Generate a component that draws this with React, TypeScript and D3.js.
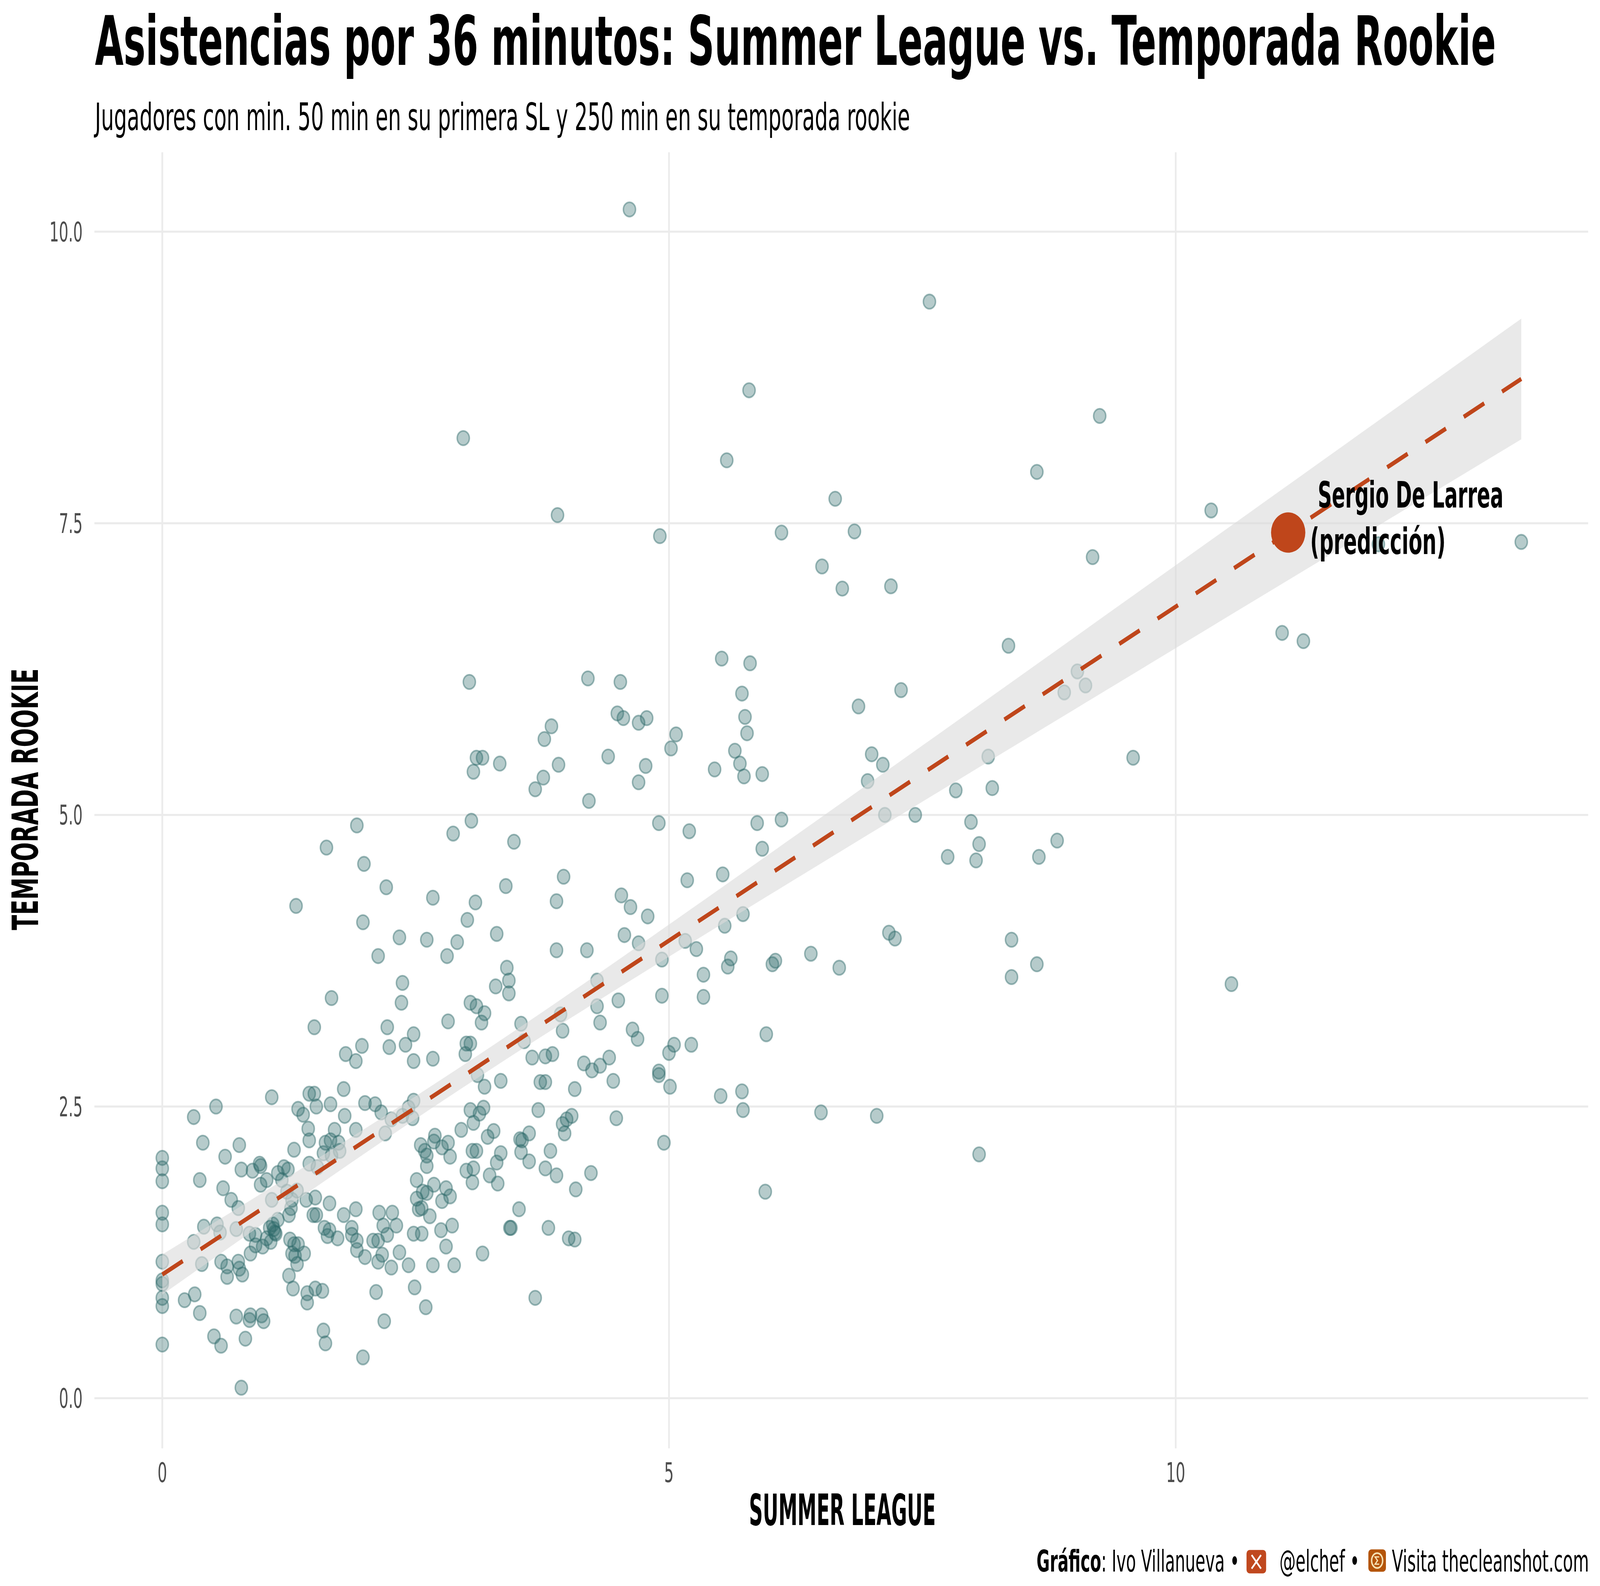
import { useLayoutEffect, useRef, useState, type ReactNode } from 'react';
import * as d3 from 'd3';

// Asistencias por 36 min: Summer League (x) vs temporada rookie (y), un valor por jugador
const slAst = [
  // columna x = 0
  0, 0, 0, 0, 0, 0, 0, 0, 0, 0, 0,
  // nube densa 0-2.5
  1.08, 0.53, 0.31, 0.40, 0.76, 0.62, 0.37, 1.45, 1.50, 1.52,
  1.66, 1.79, 1.34, 1.39, 1.80, 2.00, 2.10, 2.16, 2.26, 2.43,
  2.48, 2.47, 1.44, 1.45, 1.70, 1.91, 2.20, 2.37, 1.66, 1.61,
  1.74, 1.75, 1.67, 1.59, 1.30, 0.78, 0.89, 0.96, 0.97, 1.03,
  0.97, 1.14, 1.20, 1.24, 1.18, 0.60, 0.68, 0.75, 1.08, 1.23,
  1.33, 1.28, 1.27, 1.42, 1.51, 1.45, 1.53, 1.25, 1.49, 1.52,
  1.65, 1.79, 1.91, 1.60, 1.65, 1.63, 1.73, 1.87, 1.87, 1.92,
  1.92, 2.00, 2.08, 2.13, 2.14, 2.27, 2.18, 2.31, 2.22, 2.17,
  2.13, 2.26, 2.34, 2.43, 2.48, 2.49, 2.11, 2.19, 1.98, 1.59,
  1.61, 1.29, 1.43, 1.43, 1.51, 1.58, 1.25, 1.31, 1.28, 1.33,
  1.40, 1.26, 1.30, 1.34, 1.09, 1.10, 1.12, 1.06, 1.14, 1.11,
  1.03, 1.07, 0.92, 0.99, 0.87, 0.86, 0.92, 0.75, 0.76, 0.79,
  0.64, 0.64, 0.58, 0.73, 0.57, 0.54, 0.41, 0.31, 0.39, 0.32,
  0.22, 0.37, 0.51, 0.58, 0.73, 0.82, 0.86, 0.87, 0.98, 1.00, 0.78,
  // 0-2.5, asistencias rookie 3-5
  1.81, 1.91, 1.97, 2.24, 2.40, 2.48, 2.48, 2.22, 1.50, 1.67,
  2.36, 2.37, 2.13, 2.34, 1.98, 1.32, 2.21, 1.99, 1.62, 1.92,
  // 2.5-5, rookie 0-3
  2.67, 2.99, 3.65, 3.78, 3.85, 4.16, 4.24, 4.32, 4.41, 4.90,
  4.90, 5.01, 4.45, 4.07, 3.34, 3.18, 3.11, 3.73, 3.78, 3.71,
  4.48, 4.04, 3.99, 3.95, 3.97, 3.04, 3.17, 3.13, 3.07, 2.95,
  2.69, 2.68, 2.82, 2.76, 2.55, 2.59, 2.61, 2.61, 2.84, 3.21,
  3.27, 3.06, 3.10, 3.34, 3.30, 3.00, 3.07, 3.06, 3.23, 3.31,
  3.53, 3.55, 3.62, 3.54, 3.62, 3.83, 3.78, 3.89, 4.23, 4.08,
  4.95, 2.51, 2.68, 2.80, 2.57, 2.61, 2.76, 2.84, 2.51, 2.53,
  2.56, 2.64, 3.52, 3.43, 3.44, 3.81, 4.01, 4.07, 2.86, 2.75,
  2.56, 2.80, 3.16, 2.67, 2.88, 2.60, 3.68,
  // 2.5-5, rookie 3-5.6
  3.10, 3.16, 3.07, 3.33, 3.91, 3.76, 3.68, 4.40, 4.77, 4.70,
  5.02, 4.21, 4.90, 3.05, 2.87, 3.47, 3.96, 3.39, 2.67, 3.09,
  3.89, 4.53, 4.62, 4.79, 3.01, 3.30, 2.61, 2.91, 2.81, 4.56,
  4.70, 3.89, 4.19, 4.93, 3.40, 3.42, 3.42, 3.29, 4.29, 4.29,
  4.50, 4.32, 4.93, 3.04, 3.10, 3.18, 3.15, 2.82, 3.54, 3.93,
  3.95, 3.57, 4.64, 4.69, 5.05, 5.00, 3.04, 3.00,
  // 5-8.2
  6.71, 7.19, 5.52, 5.80, 5.72, 5.75, 5.77, 5.65, 5.70, 5.74,
  5.45, 5.92, 5.07, 6.87, 7.29, 7.00, 7.11, 6.96, 5.20, 5.87,
  6.11, 5.92, 5.18, 5.53, 7.13, 7.43, 7.83, 8.15, 8.19, 7.98,
  8.06, 8.03, 7.75, 5.16, 5.27, 5.34, 5.34, 5.55, 5.73, 5.61,
  5.58, 6.05, 6.02, 6.40, 6.68, 7.17, 7.23, 5.22, 5.96, 5.51,
  5.72, 5.73, 6.50, 7.05, 5.95, 8.06,
  // más de 8
  9.25, 8.63, 10.35, 9.18, 13.41, 12.0, 8.35, 9.03, 9.11, 8.90,
  11.05, 11.26, 9.58, 8.65, 8.83, 8.38, 8.63, 8.38, 10.55,
  // parte alta
  4.61, 7.57, 5.79, 2.97, 5.57, 3.90, 6.64, 4.91, 6.11, 6.83,
  6.51, 3.03, 4.20, 4.52, 4.49, 4.55, 4.70, 4.78, 3.84, 3.77,
];

const rookieAst = [
  2.06, 1.97, 1.86, 1.59, 1.49, 1.17, 1.01, 0.98, 0.86, 0.79, 0.46,
  2.58, 2.50, 2.41, 2.19, 2.17, 2.07, 1.87, 2.61, 2.61, 2.50,
  2.52, 2.65, 2.48, 2.43, 2.42, 2.53, 2.52, 2.45, 2.39, 2.49,
  2.55, 2.40, 2.31, 2.21, 2.30, 2.30, 2.27, 2.42, 2.21, 2.19,
  2.19, 2.12, 2.08, 2.10, 2.13, 1.96, 1.95, 2.01, 1.99, 1.87,
  1.83, 1.93, 1.98, 1.96, 1.87, 1.80, 1.70, 1.63, 1.70, 1.77,
  1.78, 1.70, 1.63, 1.70, 1.72, 2.01, 1.98, 1.57, 1.57, 1.57,
  1.67, 1.57, 1.62, 1.46, 1.44, 1.39, 1.37, 1.46, 1.40, 1.35,
  1.27, 1.21, 1.35, 1.35, 1.59, 1.59, 1.48, 1.48, 1.40, 1.23,
  1.17, 1.12, 1.25, 1.14, 1.41, 0.95, 0.91, 0.66, 0.35, 0.58,
  0.47, 0.94, 0.90, 0.82, 0.94, 0.92, 1.05, 1.22, 1.24, 1.15,
  1.24, 1.36, 1.32, 1.32, 1.49, 1.45, 1.41, 1.46, 1.53, 1.42,
  1.37, 1.34, 1.31, 1.30, 1.24, 1.41, 1.40, 1.17, 1.11, 1.06,
  1.13, 1.04, 1.17, 1.45, 1.42, 1.49, 1.47, 1.34, 1.15, 0.89,
  0.84, 0.73, 0.53, 0.45, 0.70, 0.51, 0.67, 0.71, 0.71, 0.66, 0.09,
  2.95, 2.89, 3.02, 3.01, 3.03, 3.12, 2.89, 3.18, 3.18, 3.43,
  3.39, 3.56, 3.79, 3.95, 4.08, 4.22, 4.38, 4.58, 4.72, 4.91,
  2.91, 2.95, 2.92, 2.93, 2.95, 2.87, 2.81, 2.85, 2.92, 2.80,
  2.77, 2.67, 2.72, 2.65, 2.72, 2.67, 2.77, 2.71, 2.71, 2.47,
  2.40, 2.42, 2.39, 2.35, 2.27, 2.47, 2.49, 2.44, 2.36, 2.30,
  2.25, 2.20, 2.19, 2.15, 2.17, 2.12, 2.08, 1.99, 2.07, 2.24,
  2.29, 2.12, 2.12, 2.10, 2.02, 1.95, 1.97, 1.85, 1.91, 1.84,
  2.22, 2.21, 2.27, 2.11, 2.03, 2.12, 1.97, 1.91, 1.93, 1.79,
  2.19, 1.87, 1.83, 1.80, 1.77, 1.76, 1.69, 1.73, 1.71, 1.62,
  1.63, 1.56, 1.62, 1.46, 1.46, 1.46, 1.37, 1.36, 1.48, 1.44,
  1.41, 1.30, 1.24, 1.14, 1.14, 0.78, 0.86,
  5.49, 5.49, 5.37, 5.44, 5.43, 5.32, 5.22, 5.50, 5.42, 5.28,
  5.57, 5.12, 4.93, 4.95, 4.84, 4.77, 4.47, 4.39, 4.29, 4.25,
  4.26, 4.31, 4.21, 4.13, 4.10, 3.98, 3.93, 3.91, 3.79, 3.97,
  3.90, 3.84, 3.84, 3.76, 3.69, 3.58, 3.47, 3.53, 3.58, 3.36,
  3.41, 3.22, 3.45, 3.39, 3.36, 3.30, 3.22, 3.23, 3.21, 3.29,
  3.15, 3.06, 3.16, 3.08, 3.03, 2.96, 3.04, 3.04,
  6.94, 6.96, 6.34, 6.30, 6.04, 5.84, 5.70, 5.55, 5.44, 5.33,
  5.39, 5.35, 5.69, 5.93, 6.07, 5.52, 5.43, 5.29, 4.86, 4.93,
  4.96, 4.71, 4.44, 4.49, 5.00, 5.00, 5.21, 5.50, 5.23, 4.94,
  4.75, 4.61, 4.64, 3.92, 3.85, 3.63, 3.44, 4.05, 4.15, 3.77,
  3.70, 3.75, 3.72, 3.81, 3.69, 3.99, 3.94, 3.03, 3.12, 2.59,
  2.63, 2.47, 2.45, 2.42, 1.77, 2.09,
  8.42, 7.94, 7.61, 7.21, 7.34, 7.32, 6.45, 6.23, 6.11, 6.05,
  6.56, 6.49, 5.49, 4.64, 4.78, 3.93, 3.72, 3.61, 3.55,
  10.19, 9.40, 8.64, 8.23, 8.04, 7.57, 7.71, 7.39, 7.42, 7.43,
  7.13, 6.14, 6.17, 6.14, 5.87, 5.83, 5.79, 5.83, 5.76, 5.65,
];

const xTicks = [0, 5, 10];
const yTicks = [0, 2.5, 5, 7.5, 10];

// recta de ajuste y banda de confianza
const fitIntercept = 1.06;
const fitSlope = 0.5725;
const seCenter = 2.95;
const seFloor = 0.00904;
const seGrowth = 0.00236;

const prospectName = 'Sergio De Larrea';
const prospectSL = 11.11;

// lienzo de diseño, con las proporciones de la imagen original (4816x4059)
const W = 1568;
const H = 1321.5;
const COND = '"Liberation Sans Narrow", "DejaVu Sans Condensed", "Roboto Condensed", "Liberation Sans", sans-serif';
const TEAL = '#2E6B6B';
const RUST = '#BF461B';

// ancho aproximado de una etiqueta numérica en la fuente condensada original
const tickWidth = (s: string) =>
  s.split('').reduce((w, c) => w + (c === '.' ? 4.4 : 9.4), 0);

interface FitTextProps {
  x: number;
  y: number;
  width: number;
  fontSize: number;
  fontWeight?: number;
  fill?: string;
  children: ReactNode;
}

// texto estrechado horizontalmente hasta el ancho que ocupa en el original
function FitText({ x, y, width, fontSize, fontWeight, fill = '#000', children }: FitTextProps) {
  const ref = useRef<SVGTextElement>(null);
  const [sx, setSx] = useState(1);

  useLayoutEffect(() => {
    const node = ref.current;
    if (!node) return;
    const natural = node.getComputedTextLength();
    if (natural > 0) setSx(width / natural);
  }, [width, fontSize]);

  return (
    <text
      ref={ref}
      transform={`translate(${x},${y}) scale(${sx},1)`}
      fontSize={fontSize}
      fontWeight={fontWeight}
      fill={fill}
    >
      {children}
    </text>
  );
}

export default function App() {
  const x = d3.scaleLinear().domain([-0.67, 14.07]).range([92.5, 1556.4]);
  const y = d3.scaleLinear().domain([-0.43, 10.68]).range([1206.8, 126.9]);

  const points = slAst.map((v, i) => ({ sl: v, rk: rookieAst[i] }));
  const xMax = d3.max(slAst) as number;

  const fit = (v: number) => fitIntercept + fitSlope * v;
  const half = (v: number) => Math.sqrt(seFloor + seGrowth * (v - seCenter) ** 2);
  const grid = d3.range(0, 101).map((i) => (xMax * i) / 100);

  const band = d3
    .area<number>()
    .x((d) => x(d))
    .y0((d) => y(fit(d) - half(d)))
    .y1((d) => y(fit(d) + half(d)))(grid);

  const line = d3
    .line<number>()
    .x((d) => x(d))
    .y((d) => y(fit(d)))([0, xMax]);

  const [pl, pr] = x.range();
  const [pb, pt] = y.range();

  return (
    <svg
      viewBox={`0 0 ${W} ${H}`}
      preserveAspectRatio="none"
      style={{ position: 'absolute', left: 0, top: 0, width: '100vw', height: '100vh', display: 'block' }}
      fontFamily={COND}
    >
      <rect width={W} height={H} fill="#fff" />

      {/* títulos */}
      <FitText x={93} y={54} width={1373} fontSize={57} fontWeight={700}>
        Asistencias por 36 minutos: Summer League vs. Temporada Rookie
      </FitText>
      <FitText x={93} y={108.5} width={799} fontSize={31.3}>
        Jugadores con min. 50 min en su primera SL y 250 min en su temporada rookie
      </FitText>

      {/* rejilla */}
      <g stroke="#EBEBEB" strokeWidth={1.7}>
        {xTicks.map((t) => (
          <line key={`gx${t}`} x1={x(t)} x2={x(t)} y1={pt} y2={pb} />
        ))}
        {yTicks.map((t) => (
          <line key={`gy${t}`} x1={pl} x2={pr} y1={y(t)} y2={y(t)} />
        ))}
      </g>

      {/* ticks */}
      {xTicks.map((t) => (
        <FitText
          key={`tx${t}`}
          x={x(t) - tickWidth(String(t)) / 2}
          y={1234.9}
          width={tickWidth(String(t))}
          fontSize={22.4}
          fill="#4D4D4D"
        >
          {t}
        </FitText>
      ))}
      {yTicks.map((t) => (
        <FitText
          key={`ty${t}`}
          x={81 - tickWidth(t.toFixed(1))}
          y={y(t) + 8.1}
          width={tickWidth(t.toFixed(1))}
          fontSize={22.4}
          fill="#4D4D4D"
        >
          {t.toFixed(1)}
        </FitText>
      ))}

      {/* jugadores */}
      <g>
        {points.map((p, i) => (
          <circle
            key={i}
            cx={x(p.sl)}
            cy={y(p.rk)}
            r={6}
            fill={TEAL}
            fillOpacity={0.35}
            stroke={TEAL}
            strokeOpacity={0.45}
            strokeWidth={1.4}
          />
        ))}
      </g>

      {/* banda y recta */}
      <path d={band ?? ''} fill="#DCDCDC" fillOpacity={0.62} />
      <path d={line ?? ''} fill="none" stroke={RUST} strokeWidth={3.6} strokeDasharray="23 20" />

      {/* predicción */}
      <circle cx={x(prospectSL)} cy={y(fit(prospectSL))} r={16.8} fill={RUST} />
      <FitText x={1291.4} y={423} width={182} fontSize={30.2} fontWeight={700}>
        {prospectName}
      </FitText>
      <FitText x={1284} y={461.8} width={132.7} fontSize={30.2} fontWeight={700}>
        (predicción)
      </FitText>

      {/* ejes */}
      <FitText x={734} y={1270.7} width={183} fontSize={35.7} fontWeight={700}>
        SUMMER LEAGUE
      </FitText>
      <g transform="translate(37,775) rotate(-90)">
        <FitText x={0} y={0} width={218} fontSize={35.7} fontWeight={700}>
          TEMPORADA ROOKIE
        </FitText>
      </g>

      {/* pie */}
      <FitText x={1015.8} y={1309.5} width={198.8} fontSize={25}>
        <tspan fontWeight={700}>Gráfico</tspan>: Ivo Villanueva •
      </FitText>
      <g transform="translate(1221.6,1291.5)">
        <rect width={19.2} height={19.5} rx={3} fill="#C0481E" />
        <path d="M5 4.2 L14.2 15.5 M14.2 4.2 L5 15.5" stroke="#fff" strokeWidth={1.6} fill="none" />
      </g>
      <FitText x={1253.9} y={1309.5} width={78.4} fontSize={25}>
        @elchef •
      </FitText>
      <g transform="translate(1341,1291)">
        <rect width={17.2} height={18.6} rx={3} fill="#B4550A" />
        <ellipse cx={8.6} cy={9.3} rx={5.4} ry={6.2} fill="none" stroke="#F6E3B4" strokeWidth={1.4} />
        <path d="M10.6 6.3 H6.6 L9 9.3 L6.6 12.3 H10.6" fill="none" stroke="#F6E3B4" strokeWidth={1.1} />
      </g>
      <FitText x={1364.1} y={1309.5} width={193} fontSize={25}>
        Visita thecleanshot.com
      </FitText>
    </svg>
  );
}
